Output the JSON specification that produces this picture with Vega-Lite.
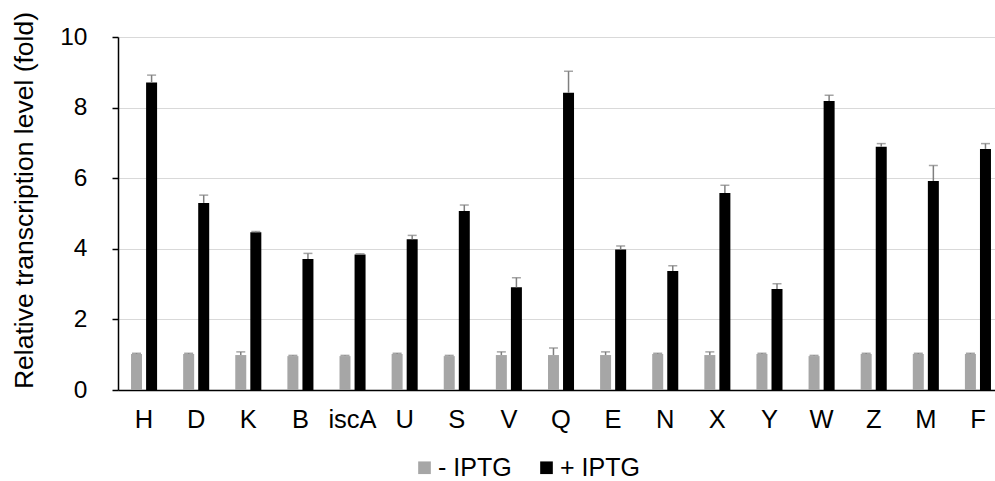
{
  "$schema": "https://vega.github.io/schema/vega-lite/v6.json",
  "width": 886,
  "height": 353,
  "autosize": {"type": "none"},
  "padding": {"left": 118, "top": 37, "right": 0, "bottom": 91},
  "background": "white",
  "config": {
    "view": {"stroke": null},
    "font": "Liberation Sans",
    "axis": {"labelFont": "Liberation Sans", "titleFont": "Liberation Sans", "labelColor": "#000000", "titleColor": "#000000"},
    "legend": {"labelFont": "Liberation Sans"}
  },
  "data": {
    "values": [
      {"gene": "H", "cond": "- IPTG", "value": 1.02, "upper": 1.04},
      {"gene": "H", "cond": "+ IPTG", "value": 8.71, "upper": 8.92},
      {"gene": "D", "cond": "- IPTG", "value": 1.02, "upper": 1.04},
      {"gene": "D", "cond": "+ IPTG", "value": 5.30, "upper": 5.52},
      {"gene": "K", "cond": "- IPTG", "value": 0.99, "upper": 1.08},
      {"gene": "K", "cond": "+ IPTG", "value": 4.47, "upper": 4.49},
      {"gene": "B", "cond": "- IPTG", "value": 0.96, "upper": 0.98},
      {"gene": "B", "cond": "+ IPTG", "value": 3.71, "upper": 3.87},
      {"gene": "iscA", "cond": "- IPTG", "value": 0.96, "upper": 0.98},
      {"gene": "iscA", "cond": "+ IPTG", "value": 3.84, "upper": 3.86},
      {"gene": "U", "cond": "- IPTG", "value": 1.02, "upper": 1.04},
      {"gene": "U", "cond": "+ IPTG", "value": 4.27, "upper": 4.38},
      {"gene": "S", "cond": "- IPTG", "value": 0.96, "upper": 0.98},
      {"gene": "S", "cond": "+ IPTG", "value": 5.07, "upper": 5.24},
      {"gene": "V", "cond": "- IPTG", "value": 0.99, "upper": 1.08},
      {"gene": "V", "cond": "+ IPTG", "value": 2.91, "upper": 3.18},
      {"gene": "Q", "cond": "- IPTG", "value": 0.99, "upper": 1.19},
      {"gene": "Q", "cond": "+ IPTG", "value": 8.42, "upper": 9.03},
      {"gene": "E", "cond": "- IPTG", "value": 0.99, "upper": 1.08},
      {"gene": "E", "cond": "+ IPTG", "value": 3.98, "upper": 4.08},
      {"gene": "N", "cond": "- IPTG", "value": 1.02, "upper": 1.04},
      {"gene": "N", "cond": "+ IPTG", "value": 3.37, "upper": 3.52},
      {"gene": "X", "cond": "- IPTG", "value": 0.99, "upper": 1.08},
      {"gene": "X", "cond": "+ IPTG", "value": 5.58, "upper": 5.80},
      {"gene": "Y", "cond": "- IPTG", "value": 1.02, "upper": 1.04},
      {"gene": "Y", "cond": "+ IPTG", "value": 2.86, "upper": 3.01},
      {"gene": "W", "cond": "- IPTG", "value": 0.96, "upper": 0.98},
      {"gene": "W", "cond": "+ IPTG", "value": 8.19, "upper": 8.35},
      {"gene": "Z", "cond": "- IPTG", "value": 1.02, "upper": 1.04},
      {"gene": "Z", "cond": "+ IPTG", "value": 6.89, "upper": 6.98},
      {"gene": "M", "cond": "- IPTG", "value": 1.02, "upper": 1.04},
      {"gene": "M", "cond": "+ IPTG", "value": 5.92, "upper": 6.36},
      {"gene": "F", "cond": "- IPTG", "value": 1.02, "upper": 1.04},
      {"gene": "F", "cond": "+ IPTG", "value": 6.83, "upper": 6.98}
    ]
  },
  "encoding": {
    "x": {
      "field": "gene", "type": "nominal", "sort": null,
      "scale": {"paddingInner": 0.5, "paddingOuter": 0.25},
      "axis": {"title": null, "labelAngle": 0, "labelFontSize": 25.5, "labelPadding": 17, "ticks": false, "domainColor": "#000000", "domainWidth": 1.5, "grid": false}
    },
    "xOffset": {
      "field": "cond", "type": "nominal", "sort": ["- IPTG", "+ IPTG"],
      "scale": {"paddingInner": 0.27, "paddingOuter": 0}
    }
  },
  "layer": [
    {
      "mark": {"type": "bar"},
      "encoding": {
        "y": {
          "field": "value", "type": "quantitative",
          "scale": {"domain": [0, 10]},
          "axis": {
            "title": "Relative transcription level (fold)", "titleFontSize": 26.5, "titleFontWeight": "normal", "titlePadding": 21, "titleY": 163,
            "values": [0, 2, 4, 6, 8, 10], "labelFontSize": 24.5, "labelPadding": 25, "tickSize": 6, "tickColor": "#000000", "tickWidth": 1.5,
            "domainColor": "#000000", "domainWidth": 1.5, "gridColor": "#d9d9d9", "gridWidth": 1.2
          }
        },
        "color": {
          "field": "cond", "type": "nominal",
          "scale": {"domain": ["- IPTG", "+ IPTG"], "range": ["#a6a6a6", "#000000"]},
          "legend": {
            "title": null, "orient": "none", "direction": "horizontal", "legendX": 294, "legendY": 418,
            "symbolType": "square", "symbolSize": 160, "symbolStrokeWidth": 0, "labelFontSize": 25, "labelOffset": 1, "columnPadding": 22, "labelColor": "#000000",
            "labelExpr": "datum.label == '- IPTG' ? '\u00a0- IPTG' : datum.label"
          }
        }
      }
    },
    {
      "mark": {"type": "rule", "color": "#7f7f7f", "strokeWidth": 1.5},
      "encoding": {
        "y": {"field": "value", "type": "quantitative"},
        "y2": {"field": "upper"}
      }
    },
    {
      "mark": {"type": "tick", "color": "#7f7f7f", "thickness": 1.5, "size": 9},
      "encoding": {
        "y": {"field": "upper", "type": "quantitative"}
      }
    }
  ]
}
